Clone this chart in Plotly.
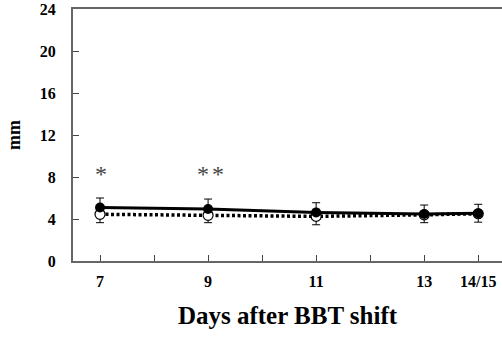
import plotly.graph_objects as go

days = [7, 9, 11, 13, 14]
filled_vals = [5.1, 4.95, 4.63, 4.48, 4.54]
filled_err = [0.9, 0.95, 0.92, 0.85, 0.86]
open_vals = [4.45, 4.35, 4.25, 4.4, 4.5]
open_err = [0.8, 0.7, 0.8, 0.75, 0.8]
tick_vals = [7, 8, 9, 10, 11, 12, 13, 14]
tick_text = ["7", "", "9", "", "11", "", "13", "14/15"]
y_ticks = [0, 4, 8, 12, 16, 20, 24]
star_x = [7.02, 8.91, 9.19]
star_y = [8.5, 8.5, 8.5]

font_family = "Liberation Serif"

fig = go.Figure()
fig.add_trace(go.Scatter(
    x=days, y=open_vals, mode="lines+markers",
    line=dict(color="black", width=3.5, dash="3px,2.5px"),
    marker=dict(symbol="circle", size=10, color="white", line=dict(color="black", width=1.2)),
    error_y=dict(type="data", array=[0]*5, arrayminus=open_err, visible=True,
                 color="black", thickness=1, width=4),
    showlegend=False,
))
fig.add_trace(go.Scatter(
    x=days, y=filled_vals, mode="lines+markers",
    line=dict(color="black", width=3),
    marker=dict(symbol="circle", size=10, color="black"),
    error_y=dict(type="data", array=filled_err, arrayminus=[0]*5, visible=True,
                 color="black", thickness=1, width=4),
    showlegend=False,
))

for sx, sy in zip(star_x, star_y):
    fig.add_annotation(x=sx, y=sy, text="*", showarrow=False,
                       font=dict(family=font_family, size=24, color="#444"),
                       xanchor="center", yanchor="middle", yshift=-2)

fig.update_layout(
    width=502, height=337,
    margin=dict(l=73, r=0, t=9, b=76),
    plot_bgcolor="white", paper_bgcolor="white",
    font=dict(family=font_family, color="black"),
    xaxis=dict(
        range=[6.5, 14.44], tickvals=tick_vals, ticktext=tick_text,
        ticks="inside", ticklen=6, tickwidth=1, tickcolor="#444",
        showline=True, linecolor="#666", linewidth=2, mirror=True,
        showgrid=False, zeroline=False,
        tickfont=dict(family=font_family, size=16, color="black", weight="bold"),
        ticklabelstandoff=5,
        title=dict(text="Days after BBT shift", standoff=17,
                   font=dict(family=font_family, size=25, color="black", weight="bold")),
    ),
    yaxis=dict(
        range=[0, 24], tickvals=y_ticks,
        ticks="inside", ticklen=6, tickwidth=1, tickcolor="#444",
        showline=True, linecolor="#666", linewidth=2,
        showgrid=False, zeroline=False,
        tickfont=dict(family=font_family, size=16, color="black", weight="bold"),
        ticklabelstandoff=12,
        title=dict(text="mm", standoff=14,
                   font=dict(family=font_family, size=18, color="black", weight="bold")),
    ),
)

fig.write_html("out.html")
